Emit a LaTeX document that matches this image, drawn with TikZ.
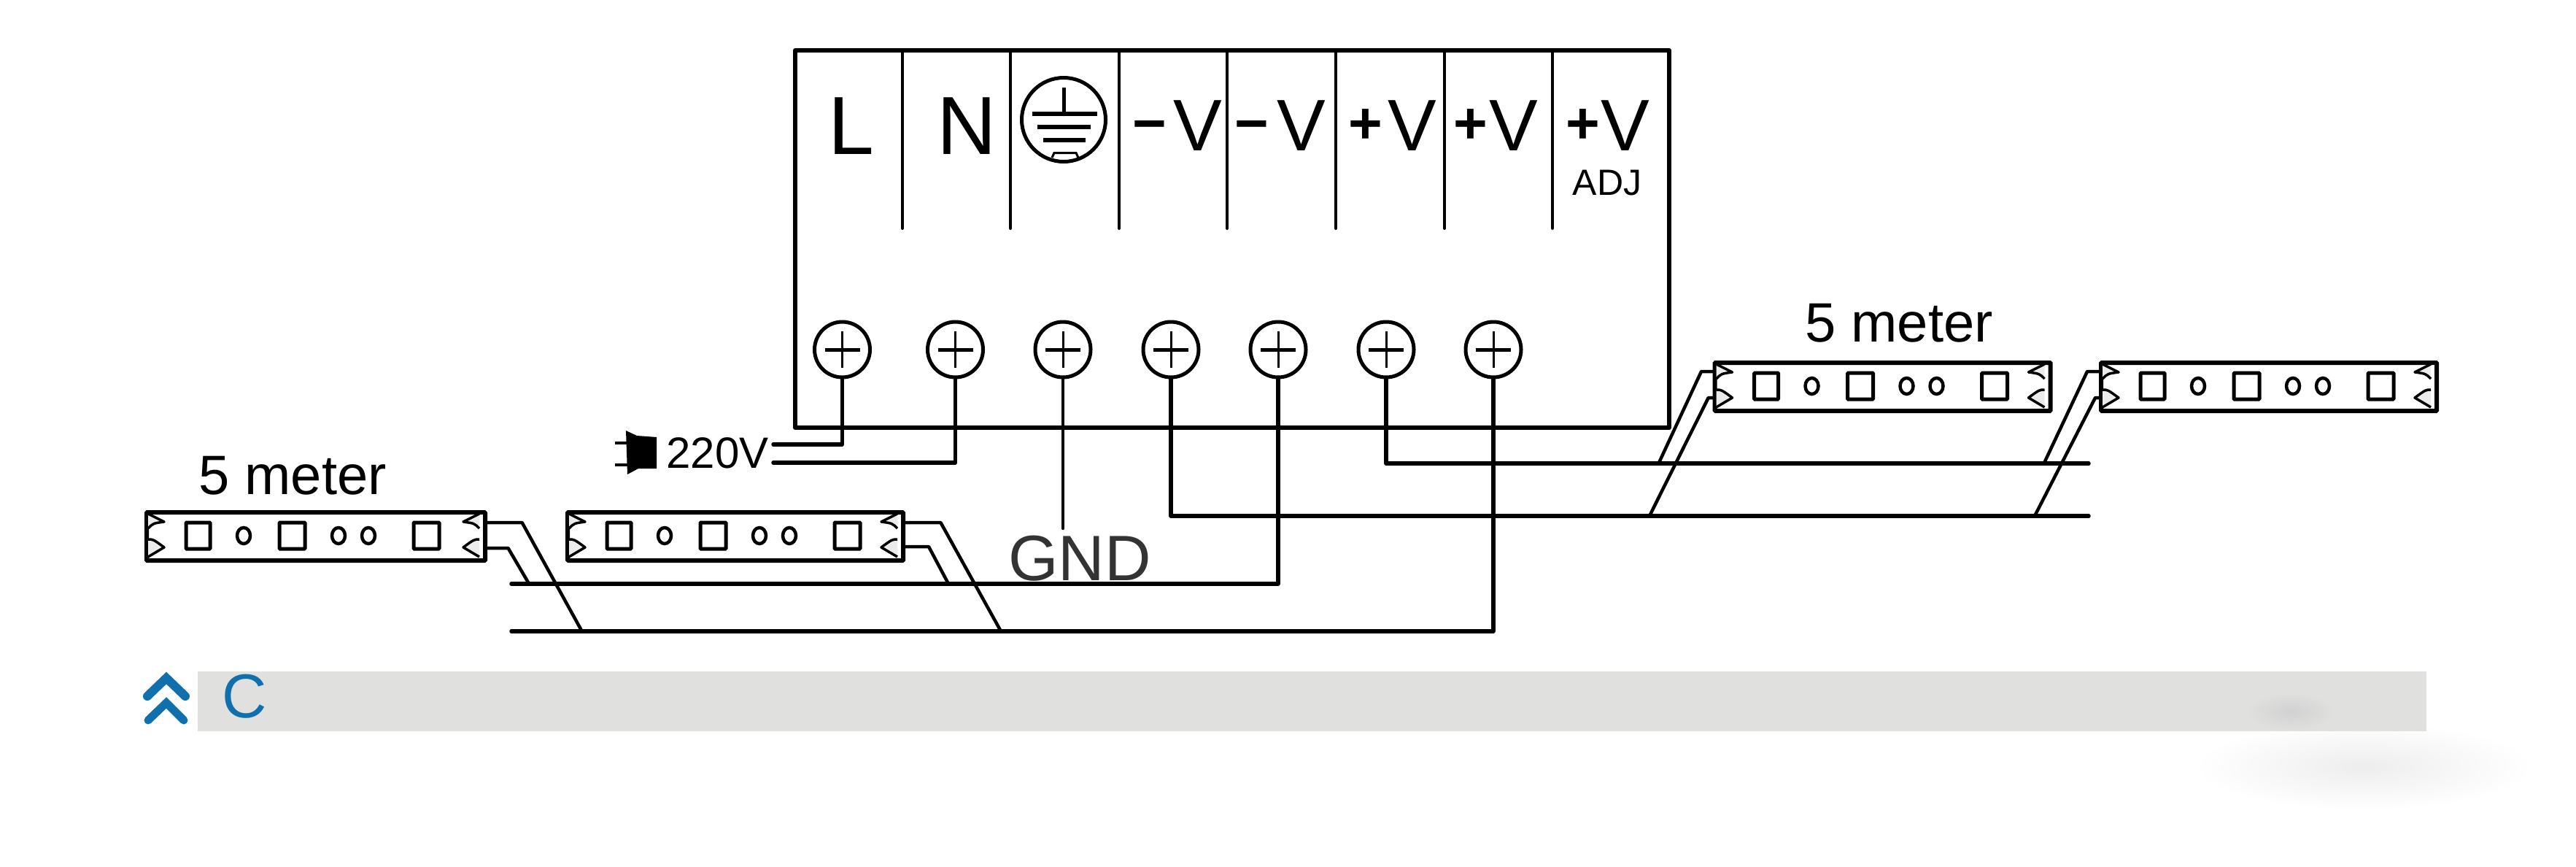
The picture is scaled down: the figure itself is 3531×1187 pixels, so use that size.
\documentclass[tikz,border=0pt]{standalone}
\usepackage{fontspec}
\setmainfont{Liberation Sans}
\usetikzlibrary{calc}
\definecolor{cblue}{HTML}{1070AE}
\definecolor{barg}{HTML}{E0E0DF}
\newcommand{\fs}[1]{\fontsize{#1}{#1}\selectfont}
\newcommand{\mn}{\raisebox{10pt}{\fs{80}\bfseries −}}
\newcommand{\pl}{\raisebox{10pt}{\fs{80}\bfseries +}}
\tikzset{
  x=1pt,y=-1pt,
  frameline/.style={line width=6pt,line join=round},
  divider/.style={line width=4pt,line cap=round},
  wire/.style={line width=5.5pt,line cap=round,line join=round},
  lead/.style={line width=4.5pt,line join=round},
  screw/.style={circle,draw,line width=5pt,minimum size=76pt,inner sep=0pt,fill=white},
  termtext/.style={inner sep=0pt,anchor=base,font=\fs{100}},
  striptext/.style={inner sep=0pt,anchor=base,font=\fs{76}},
  stripbox/.style={draw,fill=white,line width=6pt,minimum height=66pt,inner sep=0pt,anchor=north west,rounded corners=1pt},
  chip/.style={line width=5pt,rounded corners=1pt},
  bead/.style={line width=4.5pt},
  clip end/.style={line width=3.5pt,fill=white!92!black,line join=round},
  chev/.style={cblue,line width=12pt,line cap=round,line join=miter},
}
% strip contents: #1 = left edge, #2 = top edge, #3 = width
\newcommand{\stripbits}[3]{
  \begin{scope}[shift={(#1,#2)}]
    \foreach \a/\b in {57/90,185/220,369/404}
      \draw[chip] (\a,17) rectangle (\b,53);
    \foreach \c in {136,266,307}
      \draw[bead] (\c,35) ellipse [x radius=9pt,y radius=11pt];
    \foreach \s/\e in {0/1,1/-1}{
      \pgfmathsetmacro{\xa}{\s*#3+\e*5}
      \pgfmathsetmacro{\xb}{\s*#3+\e*27}
      \pgfmathsetmacro{\xc}{\s*#3+\e*12}
      \draw[clip end] (\xa,5) -- (\xb,16) .. controls (\xc,18) .. (\xa,25);
      \draw[clip end] (\xa,40) .. controls (\xc,40) .. (\xb,51) -- (\xa,64);
    }
  \end{scope}
}
\begin{document}
\begin{tikzpicture}
\useasboundingbox (0,0) rectangle (3531,1187);
\fill[white] (0,0) rectangle (3531,1187);

% faint smudge, lower right
\shade[inner color=black!7,outer color=white,draw=none] (3240,1050) ellipse [x radius=230pt,y radius=60pt];
\fill[barg] (271,920) rectangle (3326,1002);
\shade[inner color=black!18,outer color=barg,draw=none] (3140,975) ellipse [x radius=60pt,y radius=26pt];
\fill[barg] (271,1000) rectangle (3326,1002);

% power supply
\node[draw,frameline,minimum width=1198pt,minimum height=517pt,inner sep=0pt,anchor=north west] (psu) at (1087,66) {};
\foreach \x/\n in {1237/a,1385/b,1534/c,1682/d,1831/e,1980/f,2128/g}
  \draw[divider] (\x,68) coordinate (top\n) -- (\x,313) coordinate (bot\n);

\node[termtext,font=\fs{113}] (tL) at (1167,211) {L};
\node[termtext,font=\fs{113}] (tN) at (1325,211) {N};
\node[termtext] (tm1) at (1613.5,206) {\mn\kern9pt V};
\node[termtext] (tm2) at (1755,206) {\mn\kern11pt V};
\node[termtext] (tp1) at (1909,206) {\pl\kern7pt V};
\node[termtext] (tp2) at (2050,206) {\pl\kern2pt V};
\node[termtext] (tp3) at (2203.5,206) {\pl\kern1pt V};
\node[termtext,font=\fs{50}] (tadj) at (2203,267) {ADJ};

% earth symbol
\node[circle,draw,line width=5pt,minimum size=115pt,inner sep=0pt] (earth) at (1458,164) {};
\draw[line width=5pt] (1458,120) -- (1458,156);
\draw[line width=5.5pt] (1415,156) -- (1504,156);
\draw[line width=5.5pt] (1422,174) -- (1495,174);
\draw[line width=5.5pt] (1430,192) -- (1488,192);
\draw[line width=3pt] (1442,216) -- (1445,209.5) -- (1475,209.5) -- (1478,216);

% wiring rails
\coordinate (acL) at (1060,609);
\coordinate (acN) at (1060,634);
\coordinate (cornL) at (1154.5,609);
\coordinate (cornN) at (1309.5,634);
\coordinate (railRp) at (2863,635);
\coordinate (railRm) at (2863,707);
\coordinate (railLm) at (701,800);
\coordinate (railLp) at (701,865);

% screws
\foreach \x/\n in {1154.5/s1,1309.5/s2,1457/s3,1605/s4,1752/s5,1900/s6,2047/s7}
  \node[screw] (\n) at (\x,479) {};
\foreach \n in {s1,s2,s3,s4,s5,s6,s7}{
  \draw[line width=5pt] ($(\n)+(-24,0)$) -- ($(\n)+(24,0)$);
  \draw[line width=3pt] ($(\n)+(0,-25)$) -- ($(\n)+(0,25)$);
}

% connectors from screws
\coordinate (gndEnd) at (1457,724);
\draw[wire] (s1.south) -- (cornL) -- (acL);
\draw[wire] (s2.south) -- (cornN) -- (acN);
\draw[line width=4.5pt,line cap=round] (s3.south) -- (gndEnd);
\draw[wire] (s4.south) -- (s4.south |- railRm) -- (railRm);
\draw[wire] (s6.south) -- (s6.south |- railRp) -- (railRp);
\draw[wire] (s5.south) -- (s5.south |- railLm) -- (railLm);
\draw[wire] (s7.south) -- (s7.south |- railLp) -- (railLp);

% strip leads (under the strips)
\draw[lead] (662,716) -- (715.6,716) -- (797.7,865);
\draw[lead] (662,751) -- (696.5,751) -- (724,798);
\draw[lead] (1235,716) -- (1289.4,716) -- (1372,865);
\draw[lead] (1235,749) -- (1273,749) -- (1299,798);
\draw[lead] (2350,509) -- (2332,509) -- (2273.5,635);
\draw[lead] (2350,545) -- (2341.7,545) -- (2261,707);
\draw[lead] (2880,509) -- (2861,509) -- (2801.7,635);
\draw[lead] (2880,545) -- (2872,545) -- (2789,707);

% LED strips
\node[stripbox,minimum width=464pt] (strip1) at (198,699) {};
\node[stripbox,minimum width=460pt] (strip2) at (775,699) {};
\node[stripbox,minimum width=460pt] (strip3) at (2347.5,494) {};
\node[stripbox,minimum width=460pt] (strip4) at (2877,494) {};
\stripbits{198}{699}{464}
\stripbits{775}{699}{460}
\stripbits{2347.5}{494}{460}
\stripbits{2877}{494}{460}

\node[striptext] (m1) at (401,677) {5 meter};
\node[striptext] (m2) at (2603,468) {5 meter};

% mains plug
\fill (858,590) -- (873,597) -- (900,599) -- (900,642) -- (875,642) -- (860,650) -- cycle;
\draw[line width=4.5pt] (843,607) -- (860,607);
\draw[line width=4.5pt] (843,637) -- (860,637);
\node[inner sep=0pt,anchor=base,font=\fs{60}] (v220) at (983.5,641) {220V};

\node[inner sep=0pt,anchor=base,font=\fs{88},text=black!80] (gnd) at (1480,795) {GND};

% section marker
\draw[chev] (202,954) -- (228,929) -- (254,954);
\draw[chev,line width=11pt] (203,987) -- (228,963) -- (252,987);
\node[inner sep=0pt,anchor=base,font=\fs{85},text=cblue] (cc) at (335,983) {C};
\end{tikzpicture}
\end{document}
